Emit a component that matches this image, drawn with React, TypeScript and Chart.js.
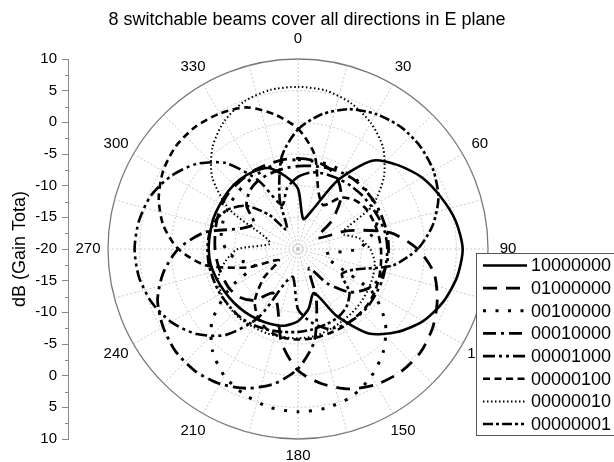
import React, { useEffect, useRef } from 'react';
import { Chart, registerables } from 'chart.js';

Chart.register(...registerables);

const TITLE = '8 switchable beams cover all directions in E plane';
const Y_TITLE = 'dB (Gain Tota)';
const FONT = '"Liberation Sans", Arial, Helvetica, sans-serif';

// angle grid (degrees)
const DATA_STEP = 10;
const GRID_STEP = 5;
const ANGLE_LABELS = [0, 30, 60, 90, 120, 150, 180, 210, 240, 270, 300, 330];

// series names (legend)
const SERIES_NAMES = ['10000000', '01000000', '00100000', '00010000', '00001000', '00000100', '00000010', '00000001'];

// gain in dB at 0,10,20,...,350 degrees
const B10000000 = [-10.5, -15.2, -13.5, -7.5, -1.8, 0.6, 2.6, 4.0, 5.3, 6.0, 5.5, 4.4, 2.8, 0.4, -2.6, -7.8, -12.6, -10.4, -8.6, -7.7, -7.4, -7.2, -7.0, -6.8, -6.6, -6.3, -6.0, -5.9, -5.9, -5.8, -5.8, -5.7, -5.7, -5.9, -6.4, -8.3];
const B01000000 = [-5.7, -5.8, -6.3, -7.4, -9.4, -13.0, -16.5, -11.5, -5.2, -1.1, 1.8, 3.4, 4.6, 5.3, 5.3, 4.7, 3.5, 1.6, -0.8, -5.0, -10.5, -12.0, -9.4, -8.1, -7.5, -7.3, -7.1, -6.9, -6.7, -6.4, -6.1, -5.9, -5.9, -5.8, -5.8, -5.7];
const B00100000 = [-5.9, -5.9, -5.8, -5.8, -5.7, -5.8, -6.0, -6.6, -8.3, -10.5, -15.5, -14.5, -6.5, -2.0, 1.0, 3.2, 4.8, 5.5, 5.7, 5.4, 4.5, 3.2, 1.0, -2.3, -7.5, -12.6, -10.2, -8.6, -7.7, -7.4, -7.2, -7.0, -6.8, -6.6, -6.3, -6.0];
const B00010000 = [-6.9, -6.7, -6.4, -6.1, -5.9, -5.9, -5.8, -5.8, -5.7, -5.7, -5.8, -6.3, -7.4, -9.4, -13.0, -16.5, -11.5, -5.2, -1.1, 1.6, 3.4, 4.6, 5.2, 5.2, 4.6, 3.6, 1.6, -1.1, -5.0, -10.5, -12.0, -9.4, -8.1, -7.5, -7.3, -7.1];
const B00001000 = [-8.6, -7.7, -7.4, -7.2, -7.0, -6.8, -6.6, -6.3, -6.0, -5.9, -5.9, -5.8, -5.8, -5.7, -5.8, -6.0, -6.6, -8.3, -10.5, -15.5, -14.5, -7.5, -2.3, 0.9, 3.1, 4.6, 5.5, 5.8, 5.5, 4.7, 3.1, 0.9, -2.3, -7.5, -12.6, -10.2];
const B00000100 = [-1.0, -4.9, -10.5, -12.0, -9.4, -8.1, -7.5, -7.3, -7.1, -6.9, -6.7, -6.4, -6.1, -5.9, -5.9, -5.8, -5.8, -5.7, -5.7, -5.8, -6.3, -7.4, -9.4, -13.0, -16.5, -11.5, -5.2, -1.1, 1.6, 3.4, 4.6, 5.2, 5.2, 4.7, 3.8, 1.6];
const B00000010 = [5.6, 5.4, 4.5, 3.0, 0.9, -2.3, -6.5, -12.6, -10.2, -8.6, -7.7, -7.4, -7.2, -7.0, -6.8, -6.6, -6.3, -6.0, -5.9, -5.9, -5.8, -5.8, -5.7, -5.8, -6.0, -6.6, -8.3, -10.5, -15.5, -14.5, -7.5, -2.3, 1.0, 3.3, 4.8, 5.5];
const B00000001 = [-1.1, 1.6, 3.5, 4.6, 5.2, 5.2, 4.7, 3.6, 1.6, -1.1, -4.9, -10.5, -12.0, -9.4, -8.1, -7.5, -7.3, -7.1, -6.9, -6.7, -6.4, -6.1, -5.9, -5.9, -5.8, -5.8, -5.7, -5.7, -5.8, -6.3, -7.4, -9.4, -13.0, -16.5, -11.5, -5.2];

const SERIES_VALUES = [B10000000, B01000000, B00100000, B00010000, B00001000, B00000100, B00000010, B00000001];

// line styles
const DASHES: number[][] = [
  [],
  [14, 9],
  [3, 9.5],
  [13, 5, 3, 5],
  [12, 4, 3, 4, 3, 4],
  [7, 4.5],
  [1.5, 2.5],
  [10, 3, 3, 3, 10, 3, 3, 3, 3, 3],
];
const WIDTHS = [2.6, 2.8, 3, 2.8, 2.6, 2.6, 2, 2.6];

const GRID_LABELS = Array.from({ length: 360 / GRID_STEP }, (_, i) => String(i * GRID_STEP));
const RATIO = DATA_STEP / GRID_STEP;
const toGridData = (vals: number[]) =>
  GRID_LABELS.map((_, i) => (i % RATIO === 0 ? vals[i / RATIO] : null));

const overlayPlugin = {
  id: 'overlay',
  afterDraw(chart: any) {
    const ctx = chart.ctx as CanvasRenderingContext2D;
    const r = chart.scales.r;
    const y = chart.scales.y;
    ctx.save();
    // minor ticks of the left axis
    ctx.strokeStyle = '#888';
    ctx.lineWidth = 1;
    ctx.setLineDash([]);
    for (let v = -27.5; v <= 27.5; v += 5) {
      const py = Math.round(y.getPixelForValue(v)) + 0.5;
      ctx.beginPath();
      ctx.moveTo(y.right - 3, py);
      ctx.lineTo(y.right, py);
      ctx.stroke();
    }
    // angle labels
    ctx.fillStyle = '#000';
    ctx.font = `15px ${FONT}`;
    ctx.textAlign = 'center';
    ctx.textBaseline = 'middle';
    ANGLE_LABELS.forEach((a) => {
      const d = r.drawingArea + (a === 180 ? 17 : 20);
      const p = r.getPointPosition(a / GRID_STEP, d);
      ctx.fillText(String(a), p.x, p.y);
    });
    // legend
    const bx = 476, by = 253, bh = 182;
    ctx.fillStyle = '#fff';
    ctx.fillRect(bx, by, 200, bh);
    ctx.strokeStyle = '#555';
    ctx.lineWidth = 1;
    ctx.strokeRect(bx + 0.5, by + 0.5, 200, bh);
    ctx.font = `18px ${FONT}`;
    ctx.textAlign = 'left';
    SERIES_NAMES.forEach((name, i) => {
      const ry = by + 12.5 + i * 22.65;
      ctx.strokeStyle = '#000';
      ctx.lineWidth = WIDTHS[i];
      ctx.setLineDash(DASHES[i]);
      ctx.beginPath();
      ctx.moveTo(483, ry);
      ctx.lineTo(527, ry);
      ctx.stroke();
      ctx.setLineDash([]);
      ctx.fillStyle = '#000';
      ctx.fillText(name, 531, ry + 1);
    });
    ctx.restore();
  },
};

export default function App() {
  const ref = useRef<HTMLCanvasElement | null>(null);
  useEffect(() => {
    if (!ref.current) return;
    Chart.defaults.font.family = FONT;
    Chart.defaults.color = '#000';
    const chart = new Chart(ref.current, {
      type: 'radar',
      data: {
        labels: GRID_LABELS,
        datasets: SERIES_VALUES.map((vals, i) => ({
          label: SERIES_NAMES[i],
          data: toGridData(vals),
          borderColor: '#000',
          backgroundColor: 'transparent',
          borderWidth: WIDTHS[i],
          borderDash: DASHES[i],
          borderCapStyle: 'butt',
          borderJoinStyle: 'round',
          fill: false,
          pointRadius: 0,
          pointHoverRadius: 0,
          spanGaps: true,
          tension: 0.25,
        })),
      },
      options: {
        responsive: false,
        animation: false,
        events: [],
        layout: { padding: { top: 0, bottom: 23, left: 0, right: 0 } },
        plugins: {
          legend: { display: false },
          tooltip: { enabled: false },
          title: {
            display: true,
            text: TITLE,
            color: '#000',
            font: { size: 18, weight: 'normal', family: FONT },
            padding: { top: 9, bottom: 28.4 },
          },
        },
        scales: {
          r: {
            min: -20,
            max: 10,
            startAngle: 0,
            ticks: { display: false, stepSize: 5 },
            pointLabels: { display: false },
            grid: {
              circular: true,
              color: (c: any) => (c.tick && c.tick.value === 10 ? '#7a7a7a' : '#c4c4c4'),
              lineWidth: (c: any) => (c.tick && c.tick.value === 10 ? 1.3 : 0.9),
            },
            border: {
              dash: (c: any) => (c.tick && c.tick.value === 10 ? [] : [2, 2]),
            },
            angleLines: {
              display: true,
              color: '#c4c4c4',
              lineWidth: (c: any) => (c.index % 3 === 0 ? 0.9 : 0),
              borderDash: [2, 2],
            },
          },
          y: {
            type: 'linear',
            position: 'left',
            min: -30,
            max: 30,
            afterFit: (s: any) => { s.width = 68; },
            ticks: {
              stepSize: 5,
              padding: 5,
              font: { size: 15, family: FONT },
              color: '#000',
              callback: (v: any) => String(Math.abs(Number(v)) - 20),
            },
            grid: { drawOnChartArea: false, drawTicks: true, tickLength: 6, tickColor: '#888', tickWidth: 1 },
            border: { display: true, color: '#888', width: 1 },
            title: {
              display: true,
              text: Y_TITLE,
              color: '#000',
              font: { size: 18, family: FONT },
              padding: { top: 9, bottom: 0 },
            },
          },
          y2: {
            type: 'linear',
            position: 'right',
            min: 0,
            max: 1,
            afterFit: (s: any) => { s.width = 86; },
            ticks: { display: false },
            grid: { display: false, drawOnChartArea: false },
            border: { display: false },
          },
        },
      } as any,
      plugins: [overlayPlugin],
    });
    return () => chart.destroy();
  }, []);

  return (
    <div style={{ position: 'fixed', left: 0, top: 0, width: 614, height: 462, background: '#fff' }}>
      <canvas ref={ref} width={614} height={462} style={{ width: 614, height: 462, display: 'block' }} />
    </div>
  );
}
